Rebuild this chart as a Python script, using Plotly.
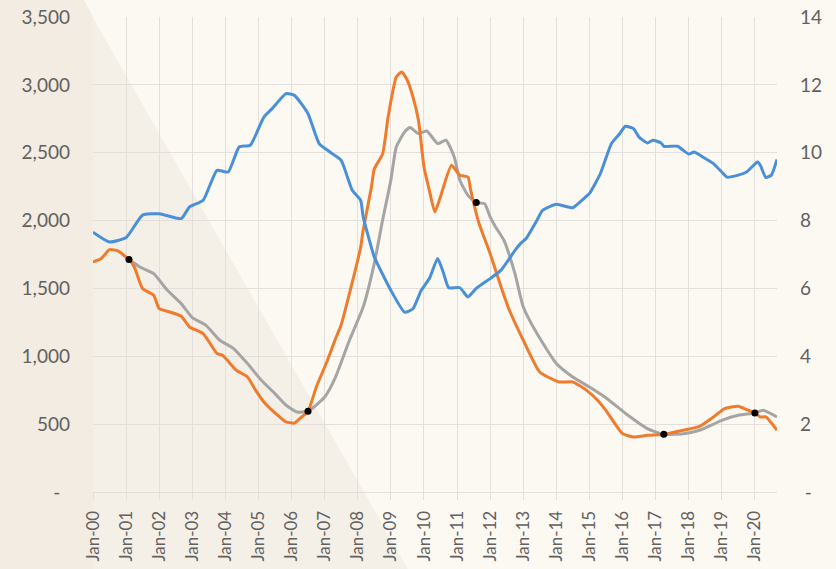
import plotly.graph_objects as go

# ---------------- data ----------------
orange_dates = ["2000-01","2000-04","2000-07","2000-10","2001-02","2001-04","2001-07","2001-11",
                "2002-01","2002-05","2002-09","2002-12","2003-05","2003-10","2003-12","2004-05",
                "2004-09","2004-12","2005-03","2005-08","2005-11","2006-02","2006-04","2006-07",
                "2006-10","2007-02","2007-05","2007-07","2007-10","2008-02","2008-03","2008-06",
                "2008-07","2008-10","2008-12","2009-03","2009-05","2009-07","2009-09","2009-11",
                "2010-01","2010-03","2010-05","2010-07","2010-11","2011-02","2011-05","2011-06",
                "2011-09","2012-01","2012-05","2012-08","2013-01","2013-07","2014-02","2014-07",
                "2014-12","2015-04","2015-07","2016-01","2016-05","2016-10","2017-04","2017-11",
                "2018-05","2018-10","2019-02","2019-07","2019-10","2020-01","2020-03","2020-05",
                "2020-09"]
orange_vals = [1695,1720,1786,1776,1713,1658,1499,1450,
               1351,1326,1295,1216,1167,1020,1007,897,
               847,749,663,565,516,508,541,595,
               774,971,1130,1230,1462,1800,1930,2250,
               2380,2490,2763,3058,3095,3034,2911,2739,
               2395,2223,2063,2174,2407,2334,2321,2223,
               1978,1757,1511,1339,1118,884,811,811,
               749,676,602,430,405,418,425,455,
               484,553,615,632,607,582,553,553,
               455]

gray_dates = ["2001-01","2001-02","2001-06","2001-11","2002-04","2002-09","2003-01","2003-06",
              "2003-11","2004-04","2004-09","2005-02","2005-07","2005-11","2006-03","2006-07",
              "2007-01","2007-05","2007-10","2008-03","2008-07","2008-10","2009-01","2009-03",
              "2009-06","2009-08","2009-11","2010-02","2010-06","2010-09","2010-12","2011-02",
              "2011-05","2011-08","2011-11","2012-01","2012-03","2012-06","2012-10","2013-01",
              "2013-06","2014-01","2014-07","2015-01","2015-07","2016-03","2016-10","2017-04",
              "2017-11","2018-05","2019-01","2019-07","2020-01","2020-04","2020-09"]
gray_vals = [1722,1713,1658,1609,1486,1388,1285,1228,
             1118,1057,946,823,725,639,590,595,
             700,847,1118,1363,1683,2002,2300,2542,
             2653,2685,2641,2660,2567,2592,2469,2297,
             2186,2133,2125,2027,1953,1855,1609,1363,
             1167,946,847,774,695,565,467,425,
             430,455,528,565,582,602,553]

blue_dates = ["2000-01","2000-07","2001-01","2001-07","2002-01","2002-09","2002-12","2003-05",
              "2003-10","2004-02","2004-06","2004-10","2005-03","2005-06","2005-11","2006-02",
              "2006-07","2006-11","2007-03","2007-07","2007-11","2008-02","2008-03","2008-07",
              "2008-09","2009-01","2009-06","2009-09","2009-12","2010-03","2010-06","2010-08",
              "2010-10","2011-02","2011-05","2011-08","2012-01","2012-05","2012-10","2012-12",
              "2013-02","2013-06","2013-08","2014-01","2014-07","2014-11","2015-01","2015-05",
              "2015-09","2015-12","2016-02","2016-05","2016-07","2016-10","2016-12","2017-03",
              "2017-04","2017-09","2017-11","2018-01","2018-03","2018-06","2018-10","2019-01",
              "2019-03","2019-07","2019-10","2020-02","2020-03","2020-05","2020-07","2020-09"]
blue_vals = [7.66,7.37,7.50,8.16,8.20,8.06,8.40,8.60,
             9.48,9.43,10.17,10.22,11.05,11.30,11.74,11.69,
             11.15,10.27,10.02,9.78,8.89,8.60,8.11,6.93,
             6.58,5.94,5.30,5.40,5.94,6.29,6.88,6.48,
             6.02,6.02,5.75,6.00,6.29,6.54,7.12,7.32,
             7.47,8.01,8.30,8.48,8.38,8.65,8.80,9.38,
             10.27,10.56,10.78,10.71,10.46,10.29,10.37,10.29,
             10.19,10.19,10.07,9.96,10.02,9.88,9.68,9.43,
             9.28,9.34,9.43,9.73,9.63,9.27,9.34,9.80]

dot_dates = ["2001-02","2006-07","2011-08","2017-04","2020-01"]
dot_vals = [1713,595,2133,425,582]

years = list(range(2000, 2021))
x_tickvals = [f"{y}-01-01" for y in years]
x_ticktext = [f"Jan-{y % 100:02d}" for y in years]

left_tickvals = [0, 500, 1000, 1500, 2000, 2500, 3000, 3500]
left_ticktext = ["-\u00a0\u00a0", "500", "1,000", "1,500", "2,000", "2,500", "3,000", "3,500"]
right_tickvals = [0, 2, 4, 6, 8, 10, 12, 14]
right_ticktext = ["\u00a0-", "2", "4", "6", "8", "10", "12", "14"]

# ---------------- styling ----------------
W, H = 836, 569
ML, MR, MT, MB = 93, 59, 17, 77
PW, PH = W - ML - MR, H - MT - MB

def px(x):
    return (x - ML) / PW

def py(y):
    return (H - MB - y) / PH

def path(points):
    return "M " + " L ".join(f"{px(a):.4f},{py(b):.4f}" for a, b in points) + " Z"

LIGHT = "#FCF9F3"
MEDIUM = "#F5F0E7"
DARK = "#F2ECE2"
GRID = "#E5DFDB"
TXT = "#636060"
FONT = "Lato"
FS = 19
FSX = 17

shapes = [
    dict(type="path", xref="paper", yref="paper", layer="below",
         path=path([(0, 0), (84, 0), (ML, 17), (ML, H), (0, H)]),
         fillcolor=DARK, line=dict(width=0)),
    dict(type="path", xref="paper", yref="paper", layer="below",
         path=path([(ML - 0.5, 17), (408, H), (ML - 0.5, H)]),
         fillcolor=MEDIUM, line=dict(width=0)),
]

fig = go.Figure()
fig.add_trace(go.Scatter(x=blue_dates, y=blue_vals, yaxis="y2", mode="lines",
                         line=dict(color="#4A90D9", width=3, shape="spline", smoothing=0.5),
                         hoverinfo="skip"))
fig.add_trace(go.Scatter(x=gray_dates, y=gray_vals, mode="lines",
                         line=dict(color="#A5A5A5", width=3, shape="spline", smoothing=0.5),
                         hoverinfo="skip"))
fig.add_trace(go.Scatter(x=orange_dates, y=orange_vals, mode="lines",
                         line=dict(color="#EF7B2C", width=3, shape="spline", smoothing=0.5),
                         hoverinfo="skip"))
fig.add_trace(go.Scatter(x=dot_dates, y=dot_vals, mode="markers",
                         marker=dict(color="black", size=7),
                         hoverinfo="skip"))

fig.update_layout(
    width=W, height=H,
    margin=dict(l=ML, r=MR, t=MT, b=MB, autoexpand=False),
    paper_bgcolor=LIGHT,
    plot_bgcolor="rgba(0,0,0,0)",
    showlegend=False,
    shapes=shapes,
    font=dict(family=FONT, size=FS, color=TXT),
    xaxis=dict(type="date", range=["2000-01-01", "2020-09-01"], automargin=False,
               tickmode="array", tickvals=x_tickvals, ticktext=x_ticktext,
               tickangle=-90, showgrid=True, gridcolor=GRID, gridwidth=1,
               ticks="outside", ticklen=7, tickcolor=GRID, tickwidth=1,
               showline=True, linecolor=GRID, linewidth=1,
               ticklabelstandoff=4, zeroline=False,
               tickfont=dict(family=FONT, size=FSX, color=TXT)),
    yaxis=dict(range=[0, 3500], tickmode="array", tickvals=left_tickvals, automargin=False,
               ticktext=left_ticktext, showgrid=True, gridcolor=GRID, gridwidth=1,
               zeroline=False, showline=False, ticks="", ticklabelstandoff=22,
               tickfont=dict(family=FONT, size=FS, color=TXT)),
    yaxis2=dict(range=[0, 14], overlaying="y", side="right", tickmode="array", automargin=False,
                tickvals=right_tickvals, ticktext=right_ticktext, showgrid=False,
                zeroline=False, showline=False, ticks="", ticklabelstandoff=22,
                tickfont=dict(family=FONT, size=FS, color=TXT)),
)

fig.write_html("out.html", config={"displayModeBar": False},
               post_script="document.body.style.margin='0px';document.body.style.background='" + LIGHT + "';")
